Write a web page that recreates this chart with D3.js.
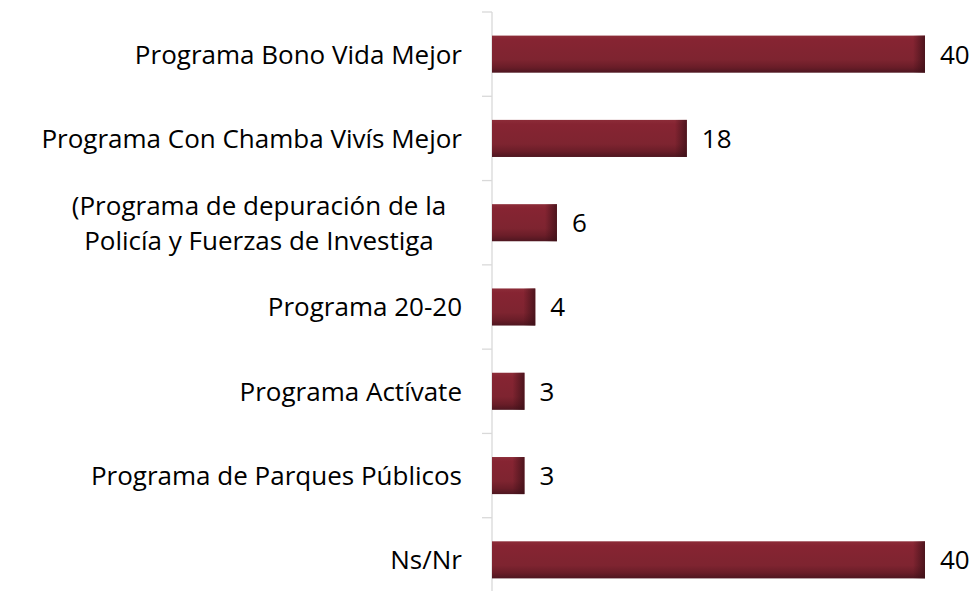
<!DOCTYPE html>
<html lang="es">
<head>
<meta charset="UTF-8">
<title>Programas</title>
<script src="https://cdn.jsdelivr.net/npm/d3@7"></script>
<style>
    html, body { margin: 0; background: #fff; }
    svg { display: block; }
</style>
</head>
<body>
<svg id="chart"></svg>
<script>
    const categories = [
        ['Programa Bono Vida Mejor'],
        ['Programa Con Chamba Vivís Mejor'],
        ['(Programa de depuración de la', 'Policía y Fuerzas de Investiga'],
        ['Programa 20-20'],
        ['Programa Actívate'],
        ['Programa de Parques Públicos'],
        ['Ns/Nr']
    ];
    const values = [40, 18, 6, 4, 3, 3, 40];

    const width = 978, height = 591;
    const svg = d3.select('#chart').attr('width', width).attr('height', height);

    const x0 = 492;
    const xScale = d3.scaleLinear().domain([0, 40]).range([x0, 925]);
    const yScale = d3.scaleBand()
        .domain(d3.range(categories.length))
        .range([12, 602])
        .paddingInner(0.56)
        .paddingOuter(0.28);
    const step = yScale.step();

    const defs = svg.append('defs');
    const gv = defs.append('linearGradient').attr('id', 'gv')
        .attr('x1', 0).attr('y1', 0).attr('x2', 0).attr('y2', 1);
    gv.append('stop').attr('offset', '0%').attr('stop-color', '#8c2c38');
    gv.append('stop').attr('offset', '12%').attr('stop-color', '#862432');
    gv.append('stop').attr('offset', '65%').attr('stop-color', '#7e2430');
    gv.append('stop').attr('offset', '85%').attr('stop-color', '#6a1d28');
    gv.append('stop').attr('offset', '100%').attr('stop-color', '#4e1620');
    const gh = defs.append('linearGradient').attr('id', 'gh')
        .attr('x1', 0).attr('y1', 0).attr('x2', 1).attr('y2', 0);
    gh.append('stop').attr('offset', '0%').attr('stop-color', '#3a0f16').attr('stop-opacity', 0);
    gh.append('stop').attr('offset', '100%').attr('stop-color', '#3a0f16').attr('stop-opacity', 0.75);

    // axis line and ticks
    const ax = svg.append('g').attr('stroke', '#d9d9d9').attr('stroke-width', 1.3);
    ax.append('line').attr('x1', x0).attr('x2', x0).attr('y1', 12).attr('y2', height);
    d3.range(categories.length + 1).forEach(i => {
        const y = 12 + i * step;
        ax.append('line').attr('x1', x0 - 10).attr('x2', x0).attr('y1', y).attr('y2', y);
    });

    const bars = svg.append('g');
    values.forEach((v, i) => {
        const y = yScale(i), h = yScale.bandwidth();
        const w = xScale(v) - x0;
        bars.append('rect').attr('x', x0).attr('y', y).attr('width', w).attr('height', h)
            .attr('fill', 'url(#gv)');
        const ew = Math.min(12, w * 0.4);
        bars.append('rect').attr('x', x0 + w - ew).attr('y', y).attr('width', ew).attr('height', h)
            .attr('fill', 'url(#gh)');
    });

    const font = 'Open Sans, sans-serif';
    const fs = '26px';
    svg.append('g').selectAll('text').data(values).join('text')
        .attr('x', d => xScale(d) + 15)
        .attr('y', (d, i) => yScale(i) + yScale.bandwidth() / 2)
        .attr('dy', '0.36em')
        .style('font-family', font).style('font-size', fs).attr('fill', '#000')
        .text(d => d);

    const labels = svg.append('g');
    categories.forEach((lines, i) => {
        const cy = yScale(i) + yScale.bandwidth() / 2;
        const lh = 35;
        const multi = lines.length > 1;
        lines.forEach((t, j) => {
            labels.append('text')
                .attr('x', multi ? 259 : 462)
                .attr('y', cy + (j - (lines.length - 1) / 2) * lh)
                .attr('dy', '0.36em')
                .attr('text-anchor', multi ? 'middle' : 'end')
                .style('font-family', font).style('font-size', fs).attr('fill', '#000')
                .text(t);
        });
    });
</script>
</body>
</html>
